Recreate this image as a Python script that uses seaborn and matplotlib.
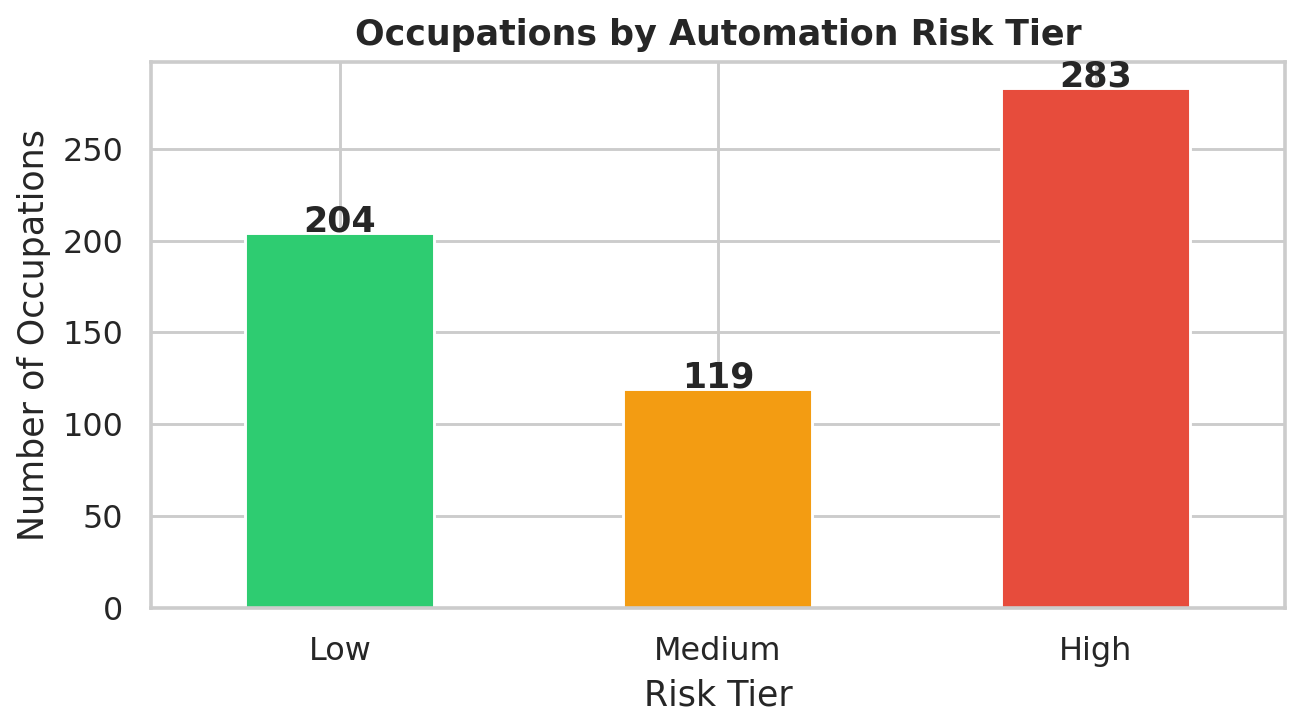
import matplotlib
matplotlib.use("Agg")
import matplotlib.pyplot as plt
import pandas as pd
import seaborn as sns

sns.set_theme(style="whitegrid")

tiers = ["Low", "Medium", "High"]
counts = [204, 119, 283]
colors = ["#2ecc71", "#f39c12", "#e74c3c"]

df = pd.DataFrame({"tier": tiers, "count": counts})

DPI = 209
fig, ax = plt.subplots(figsize=(1304 / DPI, 728 / DPI))
sns.barplot(data=df, x="tier", y="count", hue="tier", palette=colors,
            order=tiers, width=0.5, saturation=1, legend=False, ax=ax)
ax.xaxis.grid(True)
ax.set_axisbelow(True)
ax.set_xlim(-0.5, 2.5)
ax.set_ylim(0, max(counts) * 1.05)

for i, v in enumerate(counts):
    ax.text(i, v + 1, str(v), ha="center", va="baseline", fontweight="bold")

ax.set_title("Occupations by Automation Risk Tier", fontweight="bold")
ax.set_xlabel("Risk Tier")
ax.set_ylabel("Number of Occupations")
fig.subplots_adjust(left=0.1158, right=0.9854, top=0.9148, bottom=0.1648)
fig.savefig("out.png", dpi=DPI)
